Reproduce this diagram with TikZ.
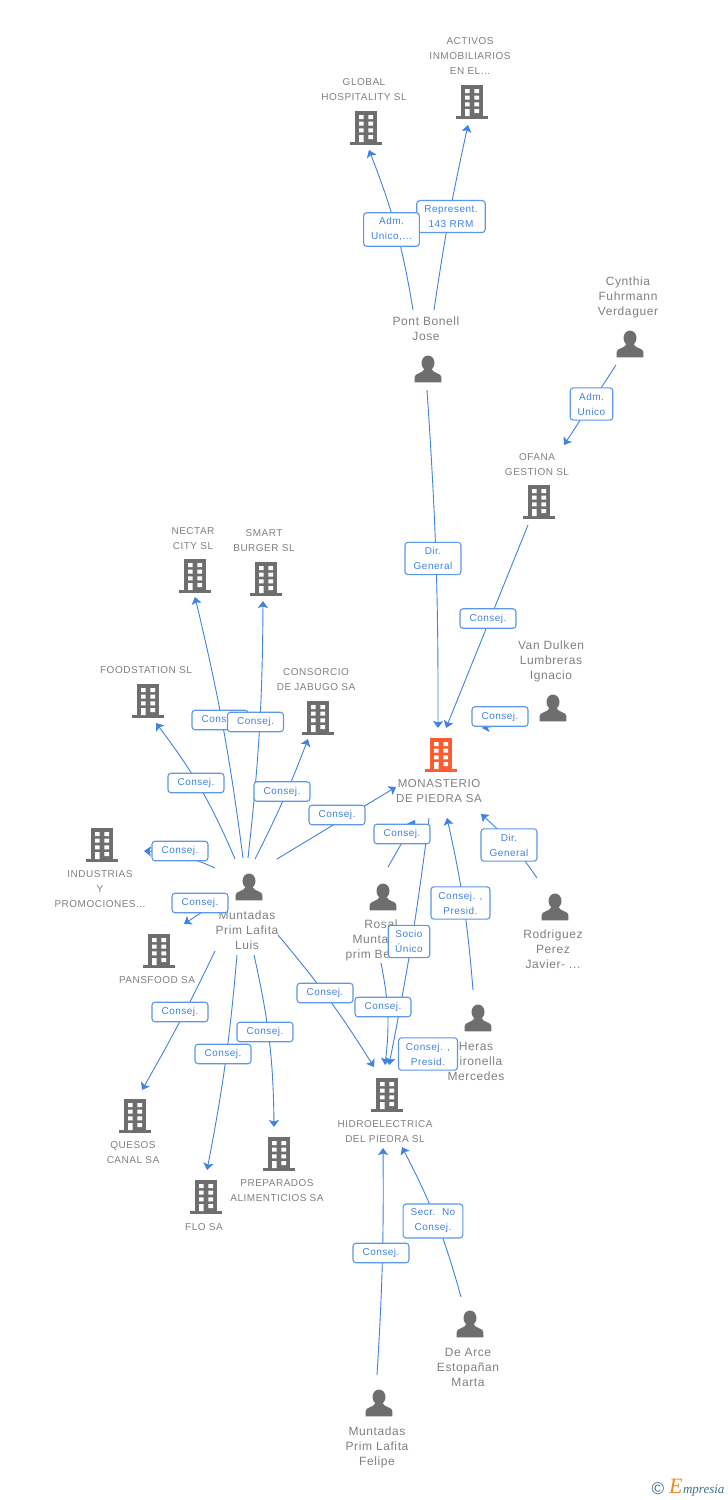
\documentclass[tikz,border=0pt]{standalone}
\usepackage{fontspec}
\setmainfont[LetterSpace=5]{Liberation Sans}
\newfontfamily\logofont{Liberation Serif}
\usepackage{tikz}
\usetikzlibrary{arrows.meta, positioning}
\definecolor{iconcolor}{HTML}{6E6E6E}
\definecolor{captioncolor}{HTML}{808080}
\definecolor{linkcolor}{HTML}{3F82E2}
\definecolor{boxcolor}{HTML}{5C97E8}
\definecolor{rootcolor}{HTML}{FF5A30}
\definecolor{logoblue}{HTML}{3F6F8C}
\definecolor{logoorange}{HTML}{F28A1E}

% Icons are drawn around the centre of their node
\newcommand{\buildingicon}[1]{%
  \begin{scope}[shift={(path picture bounding box.center)}]
    \fill[#1] (-11.2,-17) rectangle (11.2,15);
    \fill[#1] (-16,14) rectangle (16,17);
    \fill[white] (-7,-13) rectangle (-2.3,-9) (2.3,-13) rectangle (7,-9);
    \fill[white] (-7,-6.3) rectangle (-2.3,-2.3) (2.3,-6.3) rectangle (7,-2.3);
    \fill[white] (-7,0.3) rectangle (-2.3,4.3) (2.3,0.3) rectangle (7,4.3);
    \fill[white] (-7,7) rectangle (-2.3,14) (2.3,7) rectangle (7,11);
  \end{scope}}
\newcommand{\personicon}{%
  \begin{scope}[shift={(path picture bounding box.center)}]
    \fill[iconcolor] (0,-6) ellipse (6.5 and 7.5);
    \fill[iconcolor] (-13.4,13.4) -- (-13.4,8) .. controls (-13.4,4) and (-5,4.5) .. (-3.5,0)
      -- (3.5,0) .. controls (5,4.5) and (13.4,4) .. (13.4,8) -- (13.4,13.4) -- cycle;
  \end{scope}}

\begin{document}
\begin{tikzpicture}[x=1pt, y=-1pt, >={Stealth[length=7pt,width=10pt,inset=1.5pt]},
  link/.style={draw=linkcolor, line width=0.9pt, ->},
  every node/.style={inner sep=0pt}]
% Define styles for icons, captions and role boxes
\tikzstyle{building} = [rectangle, minimum width=32pt, minimum height=34pt, path picture={\buildingicon{iconcolor}}]
\tikzstyle{rootbuilding} = [rectangle, minimum width=32pt, minimum height=34pt, path picture={\buildingicon{rootcolor}}]
\tikzstyle{person} = [rectangle, minimum width=27pt, minimum height=27pt, path picture={\personicon}]
\tikzstyle{caption} = [align=center, text=captioncolor, xshift=-2pt, font=\fontsize{10}{15}\selectfont]
\tikzstyle{pcaption} = [align=center, text=captioncolor, xshift=-2pt, font=\fontsize{12}{15}\selectfont]
\tikzstyle{rolebox} = [draw=boxcolor, line width=1.1pt, fill=white, rounded corners=3pt, align=center, text=linkcolor, inner xsep=7.5pt, inner ysep=5pt, font=\fontsize{10}{15}\selectfont]
\tikzstyle{consej} = [rolebox, minimum width=56pt, minimum height=19.5pt]

\useasboundingbox (0,0) rectangle (728,1500);
\fill[white] (0,0) rectangle (728,1500);

% Buildings
\node [building] (global) at (366,128) {};
\node [caption, above of=global, node distance=38pt] (globallabel) {GLOBAL\\HOSPITALITY SL};
\node [building] (activos) at (472,102) {};
\node [caption, above of=activos, node distance=46pt] (activoslabel) {ACTIVOS\\INMOBILIARIOS\\EN EL...};
\node [building] (ofana) at (539,502) {};
\node [caption, above of=ofana, node distance=37pt] (ofanalabel) {OFANA\\GESTION SL};
\node [building] (nectar) at (195,576) {};
\node [caption, above of=nectar, node distance=37pt] (nectarlabel) {NECTAR\\CITY SL};
\node [building] (smart) at (266,579) {};
\node [caption, above of=smart, node distance=38pt] (smartlabel) {SMART\\BURGER SL};
\node [building] (foodstation) at (148,701) {};
\node [caption, above of=foodstation, node distance=31pt] (foodstationlabel) {FOODSTATION SL};
\node [building] (consorcio) at (318,718) {};
\node [caption, above of=consorcio, node distance=38pt] (consorciolabel) {CONSORCIO\\DE JABUGO SA};
\node [rootbuilding] (monasterio) at (441,755) {};
\node [caption, below of=monasterio, node distance=36pt, font=\fontsize{11.5}{15}\selectfont] (monasteriolabel) {MONASTERIO\\DE PIEDRA SA};
\node [building] (industrias) at (102,845) {};
\node [caption, below of=industrias, node distance=44pt] (industriaslabel) {INDUSTRIAS\\Y\\PROMOCIONES...};
\node [building] (pansfood) at (159,951) {};
\node [caption, below of=pansfood, node distance=29pt] (pansfoodlabel) {PANSFOOD SA};
\node [building] (quesos) at (135,1116) {};
\node [caption, below of=quesos, node distance=37pt] (quesoslabel) {QUESOS\\CANAL SA};
\node [building] (flo) at (206,1197) {};
\node [caption, below of=flo, node distance=30pt] (flolabel) {FLO SA};
\node [building] (preparados) at (279,1154) {};
\node [caption, below of=preparados, node distance=37pt] (preparadoslabel) {PREPARADOS\\ALIMENTICIOS SA};
\node [building] (hidro) at (387,1095) {};
\node [caption, below of=hidro, node distance=37pt] (hidrolabel) {HIDROELECTRICA\\DEL PIEDRA SL};

% People
\node [person] (pont) at (428,369) {};
\node [pcaption, above of=pont, node distance=40pt] (pontlabel) {Pont Bonell\\Jose};
\node [person] (cynthia) at (630,344) {};
\node [pcaption, above of=cynthia, node distance=47pt] (cynthialabel) {Cynthia\\Fuhrmann\\Verdaguer};
\node [person] (vandulken) at (553,708) {};
\node [pcaption, above of=vandulken, node distance=47pt] (vandulkenlabel) {Van Dulken\\Lumbreras\\Ignacio};
\node [person] (rodriguez) at (555,907) {};
\node [pcaption, below of=rodriguez, node distance=42pt] (rodriguezlabel) {Rodriguez\\Perez\\Javier- ...};
\node [person] (rosal) at (383,897) {};
\node [pcaption, below of=rosal, node distance=43pt] (rosallabel) {Rosal\\Muntadas\\prim Beltran};
\node [person] (heras) at (478,1018) {};
\node [pcaption, below of=heras, node distance=43pt] (heraslabel) {Heras\\Gironella\\Mercedes};
\node [person] (luis) at (249,887) {};
\node [pcaption, below of=luis, node distance=43pt] (luislabel) {Muntadas\\Prim Lafita\\Luis};
\node [person] (dearce) at (470,1324) {};
\node [pcaption, below of=dearce, node distance=43pt] (dearcelabel) {De Arce\\Estopañan\\Marta};
\node [person] (felipe) at (379,1403) {};
\node [pcaption, below of=felipe, node distance=44pt] (felipelabel) {Muntadas\\Prim Lafita\\Felipe};

% Draw edges
\draw[link] ([shift={(-15,-59)}]pont.center) to[bend right=6] ([shift={(3,22)}]global.center);
\draw[link] ([shift={(6,-59)}]pont.center) to[bend left=2] ([shift={(-4,23)}]activos.center);
\draw[link] ([shift={(-1,21)}]pont.center) to[bend left=2] ([shift={(-3,-27)}]monasterio.center);
\draw[link] ([shift={(-14,21)}]cynthia.center) -- ([shift={(25,-57)}]ofana.center);
\draw[link] ([shift={(-11,23)}]ofana.center) -- ([shift={(5,-27)}]monasterio.center);
\draw[link] ([shift={(-28,14)}]vandulken.center) -- ([shift={(41,-27)}]monasterio.center);
\draw[link] ([shift={(-18,-29)}]rodriguez.center) to[bend right=7] ([shift={(40,59)}]monasterio.center);
\draw[link] ([shift={(-5,-28)}]heras.center) to[bend right=4] ([shift={(6,63)}]monasterio.center);
\draw[link] ([shift={(5,-30)}]rosal.center) -- ([shift={(-26,65)}]monasterio.center);
\draw[link] ([shift={(-12,63)}]monasterio.center) to[bend left=2] ([shift={(2,-30)}]hidro.center);
\draw[link] ([shift={(-2,66)}]rosal.center) to[bend left=9] ([shift={(-2,-30)}]hidro.center);

% Edges of the person with the most links
\draw[link] ([shift={(28,-28)}]luis.center) -- ([shift={(-45,32)}]monasterio.center);
\draw[link] ([shift={(6,-28)}]luis.center) to[bend right=3] ([shift={(-10,21)}]consorcio.center);
\draw[link] ([shift={(-1,-29)}]luis.center) to[bend right=3] ([shift={(-3,22)}]smart.center);
\draw[link] ([shift={(-6,-29)}]luis.center) to[bend right=3] ([shift={(0,21)}]nectar.center);
\draw[link] ([shift={(-14,-28)}]luis.center) to[bend right=7] ([shift={(8,22)}]foodstation.center);
\draw[link] ([shift={(-34,-19)}]luis.center) to[bend right=11] ([shift={(42,6)}]industrias.center);
\draw[link] ([shift={(-24,10)}]luis.center) -- ([shift={(25,-27)}]pansfood.center);
\draw[link] ([shift={(-34,64)}]luis.center) to[bend left=2] ([shift={(7,-26)}]quesos.center);
\draw[link] ([shift={(-12,68)}]luis.center) to[bend left=3] ([shift={(1,-27)}]flo.center);
\draw[link] ([shift={(5,68)}]luis.center) to[bend left=6] ([shift={(-5,-27)}]preparados.center);
\draw[link] ([shift={(29,48)}]luis.center) to[bend left=4] ([shift={(-13,-28)}]hidro.center);

\draw[link] ([shift={(-2,-28)}]felipe.center) to[bend right=2] ([shift={(-4,53)}]hidro.center);
\draw[link] ([shift={(-9,-27)}]dearce.center) to[bend right=6] ([shift={(15,52)}]hidro.center);

% Role boxes sit on top of the edges
\node [rolebox] (representbox) at (451,216.5) {Represent.\\143 RRM};
\node [rolebox] (admglobalbox) at (391.5,229.5) {Adm.\\Unico,...};
\node [rolebox] (admofanabox) at (591.5,404) {Adm.\\Unico};
\node [rolebox, minimum width=56pt] (dirpontbox) at (433,558.5) {Dir.\\General};
\node [consej] (ofanabox) at (488,618.5) {Consej.};
\node [consej] (nectarbox) at (220,720) {Consej.};
\node [consej] (smartbox) at (255.5,722) {Consej.};
\node [consej] (vandulkenbox) at (500,716.5) {Consej.};
\node [consej] (foodstationbox) at (196,783) {Consej.};
\node [consej] (consorciobox) at (282,791.5) {Consej.};
\node [consej] (monasteriobox) at (337,815) {Consej.};
\node [consej] (rosalbox) at (402,834) {Consej.};
\node [rolebox, minimum width=56pt] (dirrodriguezbox) at (509,845) {Dir.\\General};
\node [consej] (industriasbox) at (180,851) {Consej.};
\node [consej] (pansfoodbox) at (200,903) {Consej.};
\node [rolebox] (herasbox) at (460.5,903) {Consej. ,\\Presid.};
\node [rolebox, inner xsep=7pt] (sociobox) at (409,941.5) {Socio\\Único};
\node [consej] (hidroluisbox) at (325,993) {Consej.};
\node [consej] (hidrorosalbox) at (383,1007) {Consej.};
\node [consej] (quesosbox) at (180,1012) {Consej.};
\node [consej] (preparadosbox) at (265,1032) {Consej.};
\node [consej] (flobox) at (223,1054) {Consej.};
\node [rolebox] (hidroherasbox) at (428,1054) {Consej. ,\\Presid.};
\node [rolebox] (secrbox) at (433,1221) {Secr.\ \ No\\Consej.};
\node [consej] (felipebox) at (381,1253) {Consej.};

% Logo in the corner
\node [text=logoblue, font=\fontsize{17}{17}\selectfont] (logosign) at (658,1489) {©};
\node [anchor=base west, text=logoorange, font=\logofont\itshape\fontsize{22}{22}\selectfont] (logoe) at (669,1493) {E};
\node [anchor=base west, text=logoblue, font=\logofont\itshape\fontsize{13}{13}\selectfont, right=0pt of logoe.base east, anchor=base west] (logotext) {mpresia};
\end{tikzpicture}
\end{document}
